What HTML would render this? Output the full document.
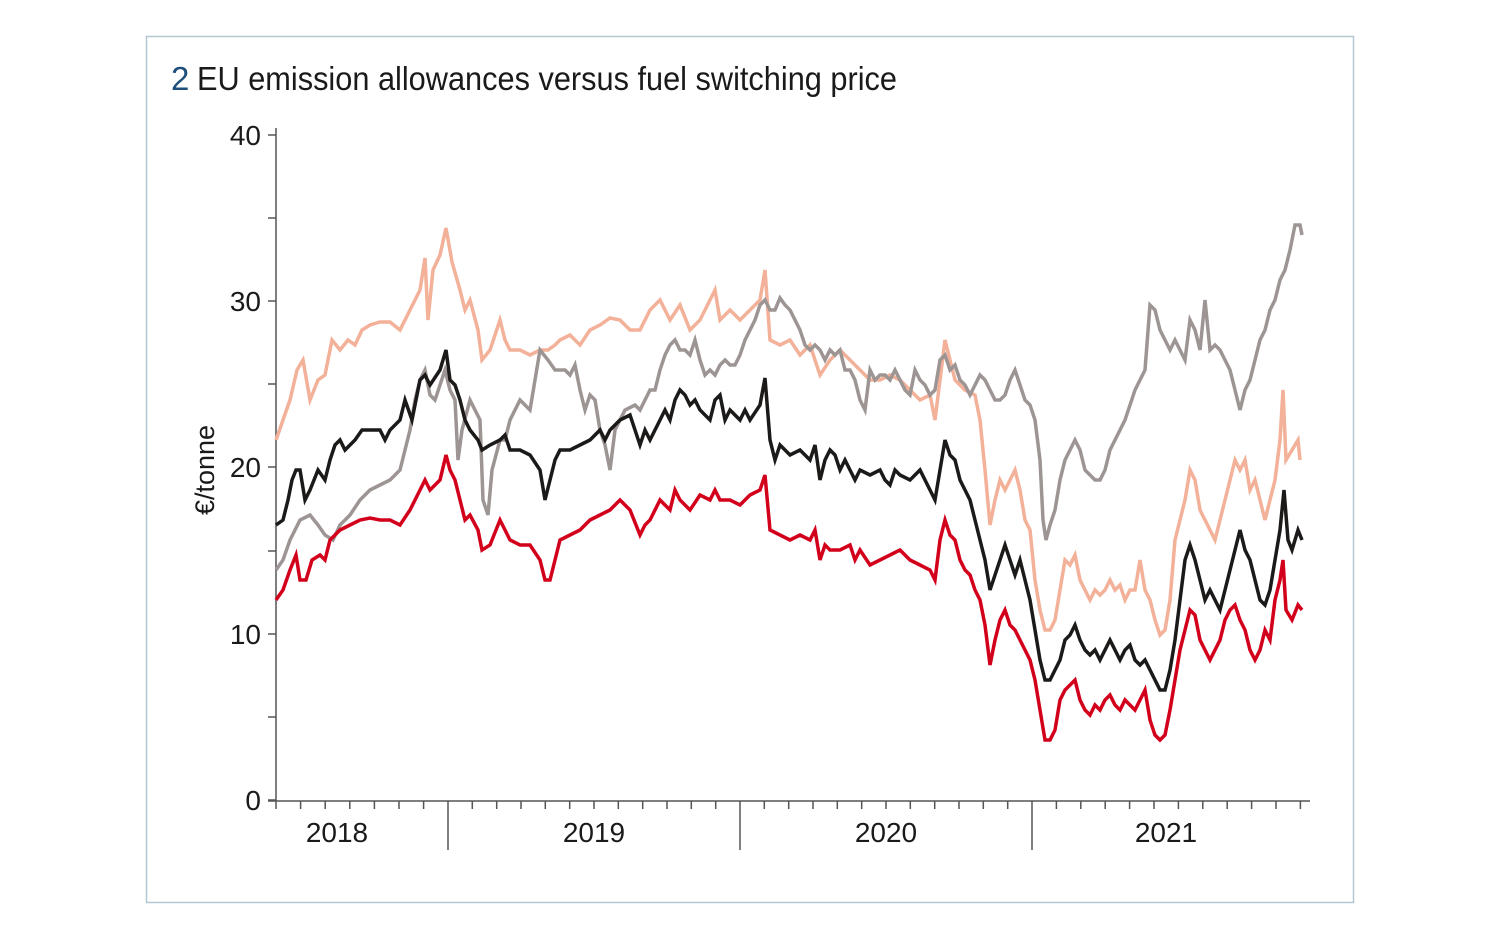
<!DOCTYPE html>
<html><head><meta charset="utf-8"><style>
html,body{margin:0;padding:0;background:#fff;}
svg{display:block;}
text{font-family:"Liberation Sans",sans-serif;}
</style></head><body>
<svg width="1500" height="939" viewBox="0 0 1500 939" xmlns="http://www.w3.org/2000/svg">
<rect x="146.5" y="36.5" width="1207" height="866" fill="none" stroke="#b3c7d3" stroke-width="1.5"/>
<text x="171" y="90" font-size="33" fill="#1d4f7c">2</text>
<text x="197" y="90" font-size="33" fill="#1a1a1a" textLength="700" lengthAdjust="spacingAndGlyphs">EU emission allowances versus fuel switching price</text>
<g stroke="#555" stroke-width="1.5" fill="none">
<line x1="276" y1="128" x2="276" y2="801"/>
<line x1="268" y1="801" x2="1310" y2="801"/>
<line x1="268" y1="135" x2="276" y2="135"/>
<line x1="268" y1="301" x2="276" y2="301"/>
<line x1="268" y1="467" x2="276" y2="467"/>
<line x1="268" y1="634" x2="276" y2="634"/>
<line x1="268" y1="800" x2="276" y2="800"/>
<line x1="268" y1="218" x2="276" y2="218"/>
<line x1="268" y1="384" x2="276" y2="384"/>
<line x1="268" y1="551" x2="276" y2="551"/>
<line x1="268" y1="717" x2="276" y2="717"/>
<line x1="448" y1="801" x2="448" y2="850"/>
<line x1="740" y1="801" x2="740" y2="850"/>
<line x1="1032" y1="801" x2="1032" y2="850"/>
<path d="M276 801v8M300.6 801v8M325.2 801v8M349.8 801v8M374.4 801v8M399 801v8M423.6 801v8M472.3 801v8M496.7 801v8M521 801v8M545.3 801v8M569.7 801v8M594 801v8M618.3 801v8M642.7 801v8M667 801v8M691.3 801v8M715.7 801v8M764.3 801v8M788.7 801v8M813 801v8M837.3 801v8M861.7 801v8M886 801v8M910.3 801v8M934.7 801v8M959 801v8M983.3 801v8M1007.7 801v8M1056.4 801v8M1080.8 801v8M1105.2 801v8M1129.6 801v8M1154 801v8M1178.4 801v8M1202.8 801v8M1227.2 801v8M1251.6 801v8M1276 801v8M1300.4 801v8"/>
</g>
<g font-size="28" fill="#1a1a1a" text-anchor="end">
<text x="261" y="145">40</text>
<text x="261" y="311">30</text>
<text x="261" y="477">20</text>
<text x="261" y="644">10</text>
<text x="261" y="810">0</text>
</g>
<text transform="translate(214,470) rotate(-90)" font-size="27" fill="#1a1a1a" text-anchor="middle">€/tonne</text>
<g font-size="28" fill="#1a1a1a" text-anchor="middle">
<text x="337" y="842">2018</text>
<text x="594" y="842">2019</text>
<text x="886" y="842">2020</text>
<text x="1166" y="842">2021</text>
</g>
<g fill="none" stroke-width="3.5" stroke-linejoin="miter">
<polyline stroke="#f2b198" points="276,440 283,420 290,400 297,370 303,360 310,400 318,380 325,375 332,340 340,350 348,340 355,345 362,330 370,325 380,322 390,322 400,330 410,310 420,290 425,258 428,320 433,270 440,255 446,228 452,262 460,290 465,310 470,300 478,330 482,360 490,350 500,320 505,340 510,350 520,350 530,355 540,350 548,350 555,345 560,340 570,335 580,345 590,330 600,325 610,318 620,320 630,330 640,330 650,310 660,300 670,320 680,305 690,330 700,320 710,300 715,290 720,320 730,310 740,320 750,310 760,300 765,270 770,340 780,345 790,340 800,355 810,345 820,375 830,360 840,350 850,360 860,370 870,380 880,380 890,375 900,380 910,390 920,400 930,395 935,420 945,340 955,380 965,390 975,395 980,420 985,470 990,525 995,500 1000,480 1005,490 1010,480 1015,470 1020,490 1025,520 1030,530 1035,580 1040,610 1045,630 1050,630 1055,620 1060,590 1065,560 1070,565 1075,555 1080,580 1085,590 1090,600 1095,590 1100,595 1105,590 1110,580 1115,590 1120,585 1125,600 1130,590 1135,590 1140,560 1145,590 1150,600 1155,620 1160,635 1165,630 1170,600 1175,540 1180,520 1185,500 1190,470 1195,480 1200,510 1205,520 1210,530 1215,540 1220,520 1225,500 1230,480 1235,460 1240,470 1245,460 1250,490 1255,480 1260,500 1265,520 1270,500 1275,480 1280,440 1283,390 1286,460 1292,450 1298,440 1300,460"/>
<polyline stroke="#9d9594" points="276,570 283,560 290,540 300,520 310,515 318,525 325,535 333,540 340,525 350,515 360,500 370,490 380,485 390,480 400,470 405,450 410,430 415,400 420,380 425,370 430,395 435,400 440,385 445,370 450,390 455,400 458,460 462,430 470,400 475,410 480,420 483,500 488,515 492,470 500,440 505,440 510,420 520,400 530,410 540,350 548,360 555,370 565,370 570,375 575,365 580,390 585,410 590,395 595,400 600,430 605,445 610,470 615,430 620,420 625,410 635,405 640,410 645,400 650,390 655,390 660,370 665,355 670,345 675,340 680,350 685,350 690,355 695,340 700,360 705,375 710,370 715,375 720,365 725,360 730,365 735,365 740,355 745,340 750,330 755,320 760,305 765,300 770,310 775,310 780,298 785,305 790,310 795,320 800,330 805,345 810,350 815,345 820,350 825,360 830,350 835,355 840,350 845,370 850,370 855,380 860,400 865,410 870,370 875,380 880,375 885,375 890,380 895,370 900,380 905,390 910,395 915,370 920,380 925,385 930,395 935,390 940,360 945,355 950,370 955,365 960,380 965,385 970,395 975,385 980,375 985,380 990,390 995,400 1000,400 1005,395 1010,380 1015,370 1020,385 1025,400 1030,405 1035,420 1040,460 1043,520 1046,540 1050,525 1055,510 1060,480 1065,460 1070,450 1075,440 1080,450 1085,470 1090,475 1095,480 1100,480 1105,470 1110,450 1115,440 1120,430 1125,420 1130,405 1135,390 1140,380 1145,370 1150,305 1155,310 1160,330 1165,340 1170,350 1175,340 1180,350 1185,360 1190,320 1195,330 1200,350 1205,300 1210,350 1215,345 1220,350 1225,360 1230,370 1235,390 1240,410 1245,390 1250,380 1255,360 1260,340 1265,330 1270,310 1275,300 1280,280 1285,270 1290,250 1295,225 1300,225 1302,235"/>
<polyline stroke="#1c1a19" points="276,525 283,520 288,500 292,480 296,470 300,470 305,500 310,490 318,470 325,480 330,460 335,445 340,440 345,450 350,445 355,440 362,430 372,430 380,430 385,440 390,430 400,420 405,400 412,420 420,380 425,375 430,385 440,370 446,350 450,380 455,385 460,400 465,420 470,430 478,440 482,450 490,445 500,440 505,435 510,450 520,450 530,455 540,470 545,500 550,480 555,460 560,450 570,450 580,445 590,440 600,430 605,440 610,430 620,420 630,415 640,445 645,430 650,440 660,420 665,410 670,420 675,400 680,390 685,395 690,405 695,400 700,410 710,420 715,400 720,395 725,420 730,410 740,420 745,410 750,420 760,405 765,378 770,440 775,460 780,445 790,455 800,450 810,460 815,445 820,480 825,460 830,450 835,455 840,470 845,460 850,470 855,480 860,470 870,475 880,470 885,480 890,485 895,470 900,475 910,480 920,470 930,490 935,500 940,470 945,440 950,455 955,460 960,480 965,490 970,500 975,520 980,540 985,560 990,590 995,575 1000,560 1005,545 1010,560 1015,575 1020,560 1025,580 1030,600 1035,630 1040,660 1045,680 1050,680 1055,670 1060,660 1065,640 1070,635 1075,625 1080,640 1085,650 1090,655 1095,650 1100,660 1105,650 1110,640 1115,650 1120,660 1125,650 1130,645 1135,660 1140,665 1145,660 1150,670 1155,680 1160,690 1165,690 1170,670 1175,640 1180,600 1185,560 1190,545 1195,560 1200,580 1205,600 1210,590 1215,600 1220,610 1225,590 1230,570 1235,550 1240,530 1245,550 1250,560 1255,580 1260,600 1265,605 1270,590 1275,560 1280,530 1284,490 1288,540 1292,550 1298,530 1302,540"/>
<polyline stroke="#d3001c" points="276,600 283,590 290,570 296,555 300,580 306,580 312,560 320,555 325,560 330,540 340,530 350,525 360,520 370,518 380,520 390,520 400,525 410,510 420,490 425,480 430,490 440,480 446,455 450,470 455,480 460,500 465,520 470,515 478,530 482,550 490,545 500,520 505,530 510,540 520,545 530,545 540,560 545,580 550,580 555,560 560,540 570,535 580,530 590,520 600,515 610,510 620,500 630,510 640,535 645,525 650,520 660,500 670,510 675,490 680,500 690,510 700,495 710,500 715,490 720,500 730,500 740,505 750,495 760,490 765,475 770,530 780,535 790,540 800,535 810,540 815,530 820,560 825,545 830,550 840,550 850,545 855,560 860,550 870,565 880,560 890,555 900,550 910,560 920,565 930,570 935,580 940,540 945,520 950,535 955,540 960,560 965,570 970,575 975,590 980,600 985,625 990,665 995,640 1000,620 1005,610 1010,625 1015,630 1020,640 1025,650 1030,660 1035,680 1040,710 1045,740 1050,740 1055,730 1060,700 1065,690 1070,685 1075,680 1080,700 1085,710 1090,715 1095,705 1100,710 1105,700 1110,695 1115,705 1120,710 1125,700 1130,705 1135,710 1140,700 1145,690 1150,720 1155,735 1160,740 1165,735 1170,710 1175,680 1180,650 1185,630 1190,610 1195,615 1200,640 1205,650 1210,660 1215,650 1220,640 1225,620 1230,610 1235,605 1240,620 1245,630 1250,650 1255,660 1260,650 1265,630 1270,640 1275,600 1280,580 1283,560 1286,610 1292,620 1298,605 1302,610"/>
</g>
</svg>
</body></html>
